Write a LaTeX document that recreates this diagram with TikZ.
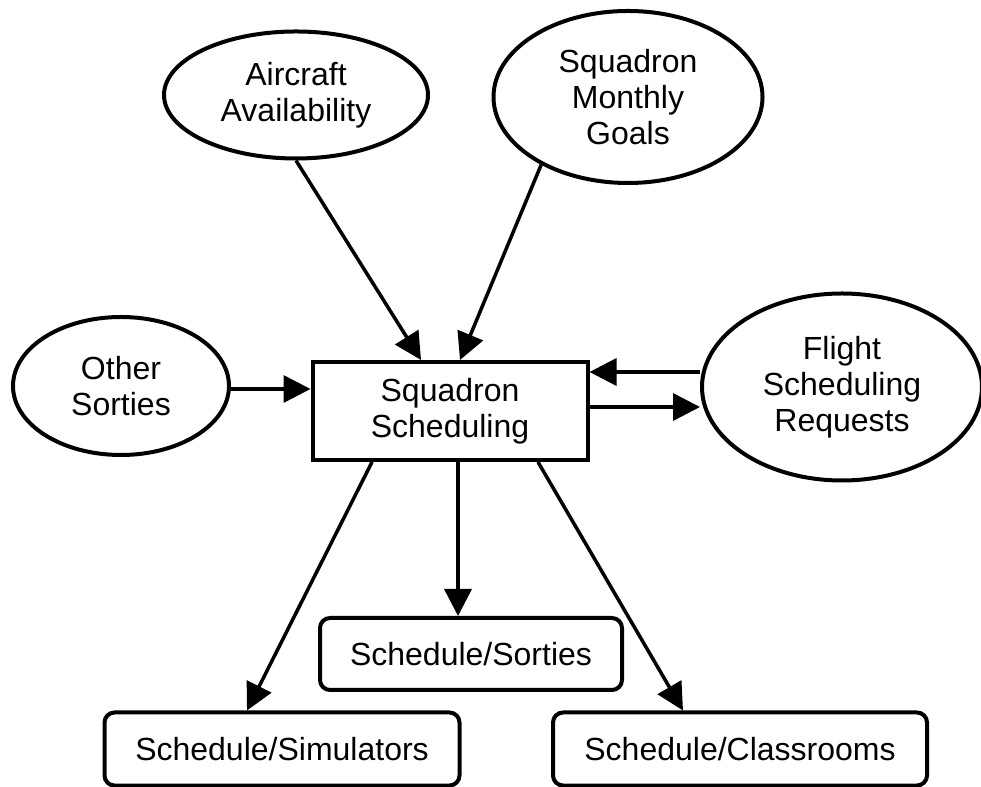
\documentclass[tikz,border=0pt]{standalone}
\usepackage{fontspec}
\setmainfont{Liberation Sans}
\usetikzlibrary{arrows.meta, shapes.geometric}

\tikzset{
  txt/.style={font=\fontsize{32}{36}\selectfont, align=center, inner sep=0pt},
  oval/.style={txt, draw=black, ellipse, line width=4pt},
  box/.style={txt, draw=black, rectangle, line width=4pt},
  roundbox/.style={box, rounded corners=10pt},
  arr/.style={-{Triangle[length=27pt,width=27pt]}, line width=3.5pt}
}

\begin{document}
\begin{tikzpicture}[x=1pt,y=1pt]

\useasboundingbox (0,0) rectangle (981,786);

% Inputs
\node[oval, minimum width=264pt, minimum height=127pt] (air) at (296,691) {Aircraft\\Availability};
\node[oval, minimum width=269pt, minimum height=172pt] (goals) at (628,689) {Squadron\\Monthly\\Goals};
\node[oval, minimum width=216pt, minimum height=138pt] (other) at (121,400) {Other\\Sorties};
\node[oval, minimum width=280pt, minimum height=187pt] (flight) at (842,399) {Flight\\Scheduling\\Requests};

% Central box
\node[box, minimum width=275pt, minimum height=98pt] (sched) at (450,375) {Squadron\\Scheduling};

% Outputs
\node[roundbox, minimum width=302pt, minimum height=72pt] (sorties) at (471,132) {Schedule/Sorties};
\node[roundbox, minimum width=355pt, minimum height=73pt] (sim) at (282,37) {Schedule/Simulators};
\node[roundbox, minimum width=374pt, minimum height=73pt] (class) at (740,37) {Schedule/Classrooms};

% Arrows in
\draw[arr] (air.south) -- ([xshift=-29pt]sched.north);
\draw[arr] (goals.218) -- ([xshift=10pt]sched.north);
\draw[arr] ([yshift=-3pt]other.east) -- ([yshift=-3pt]other.east -| sched.west);
\draw[arr] ([yshift=15pt]flight.west) -- ([yshift=15pt]flight.west -| sched.east);
\draw[arr] ([yshift=-20pt]flight.west -| sched.east) -- ([yshift=-20pt]flight.west);

% Arrows out
\draw[arr] ([xshift=-78pt]sched.south) -- ([xshift=-35pt]sim.north);
\draw[arr] ([xshift=8pt]sched.south) -- ([xshift=8pt]sched.south |- sorties.north);
\draw[arr] ([xshift=88pt]sched.south) -- ([xshift=-57pt]class.north);

\end{tikzpicture}
\end{document}
